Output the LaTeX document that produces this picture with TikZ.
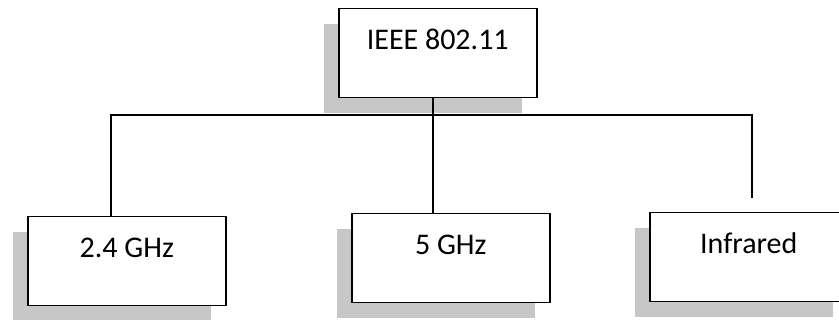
\documentclass[tikz,border=0pt]{standalone}
\usepackage{fontspec}
\setmainfont{Carlito}
\usetikzlibrary{shadows}

\begin{document}
\begin{tikzpicture}[x=1pt,y=-1pt,
    box/.style={draw,line width=1.5pt,fill=white,anchor=north west,inner sep=0pt,
        minimum width=198pt,minimum height=89pt,text height=41pt,text depth=48pt,
        font=\fontsize{30}{36}\selectfont,
        drop shadow={shadow xshift=-15pt,shadow yshift=-15pt,fill=black!22,opacity=1}},
    link/.style={line width=1.4pt}]
        \useasboundingbox (0,0) rectangle (839,320);
        \coordinate (busL) at (111,115);
        \coordinate (busM) at (433,115);
        \coordinate (busR) at (752,115);
        \coordinate (irEnd) at (752,198);
        \node[box] (ieee) at (338,8) {IEEE 802.11};
        \node[box] (ghzA) at (27,216) {2.4 GHz};
        \node[box] (ghzB) at (351,213) {5 GHz};
        \node[box] (infra) at (649,212) {Infrared};
        \draw[link] (ieee.south -| busM) -- (busM);
        \draw[link] (busL |- ghzA.north) -- (busL) -- (busR) -- (irEnd);
        \draw[link] (busM) -- (busM |- ghzB.north);
    \end{tikzpicture}
\end{document}
